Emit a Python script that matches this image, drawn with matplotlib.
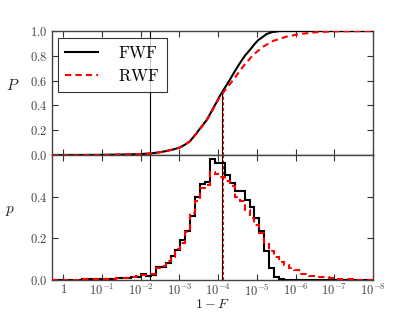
import numpy as np
import matplotlib
matplotlib.use("Agg")
import matplotlib.pyplot as plt
from matplotlib.ticker import FixedLocator, FixedFormatter, NullLocator

plt.rcParams['mathtext.fontset'] = 'cm'
plt.rcParams['font.family'] = ['DejaVu Serif']

# ---------------- data ----------------
# histogram bins in exponent space: 1-F = 10**(-exponent)
bin_exponents = np.linspace(-0.29, 8.0, 66)

hist_fwf = [0.001, 0.001, 0.001, 0.002, 0.002, 0.002, 0.003, 0.003, 0.004, 0.004,
            0.005, 0.006, 0.007, 0.009, 0.010, 0.012, 0.014, 0.016, 0.029, 0.020, 0.026,
            0.064, 0.062, 0.083, 0.116, 0.145, 0.190, 0.233, 0.305, 0.400, 0.460, 0.470,
            0.580, 0.560, 0.560, 0.506, 0.466, 0.426, 0.426, 0.386, 0.350, 0.297, 0.233,
            0.137, 0.056, 0.016, 0.004,
            0.001, 0.0005, 0, 0, 0, 0, 0, 0, 0, 0, 0, 0, 0, 0, 0, 0, 0, 0]

hist_rwf = [0.001, 0.001, 0.001, 0.002, 0.002, 0.002, 0.003, 0.003, 0.004, 0.004,
            0.005, 0.006, 0.007, 0.009, 0.011, 0.012, 0.014, 0.017, 0.022, 0.024, 0.030,
            0.057, 0.068, 0.090, 0.110, 0.150, 0.180, 0.230, 0.320, 0.380, 0.440, 0.458,
            0.520, 0.510, 0.495, 0.475, 0.450, 0.400, 0.377, 0.337, 0.300, 0.265, 0.225,
            0.175, 0.140, 0.112, 0.088,
            0.072, 0.060, 0.047, 0.031, 0.029, 0.020, 0.016, 0.016, 0.013, 0.009, 0.007,
            0.006, 0.003, 0.003, 0.001, 0.001, 0.0005, 0.0005]

cdf_fwf_exp = [-0.29, 1.0, 1.72, 2.0, 2.24, 2.45, 2.63, 2.82, 3.01, 3.14, 3.27, 3.44, 3.5,
               3.6, 3.70, 3.8, 3.87, 3.95, 4.04, 4.15, 4.30, 4.43, 4.56, 4.69, 4.82, 4.93,
               5.03, 5.16, 5.25, 5.38, 5.59, 8.0]
cdf_fwf = [0.0, 0.001, 0.005, 0.008, 0.012, 0.02, 0.03, 0.043, 0.06, 0.083, 0.11, 0.175, 0.20,
           0.24, 0.28, 0.335, 0.377, 0.42, 0.475, 0.53, 0.605, 0.675, 0.74, 0.80, 0.847, 0.89,
           0.925, 0.954, 0.975, 0.99, 1.0, 1.0]

cdf_rwf_exp = [-0.29, 1.0, 1.72, 2.0, 2.24, 2.45, 2.63, 2.82, 3.01, 3.14, 3.27, 3.44, 3.5,
               3.6, 3.70, 3.8, 3.87, 3.95, 4.04, 4.22, 4.39, 4.64, 4.90, 5.16, 5.42, 5.76,
               6.11, 6.54, 6.96, 8.0]
cdf_rwf = [0.0, 0.001, 0.005, 0.008, 0.012, 0.02, 0.03, 0.043, 0.06, 0.083, 0.11, 0.172, 0.197,
           0.237, 0.275, 0.33, 0.37, 0.415, 0.465, 0.54, 0.605, 0.712, 0.806, 0.873, 0.92,
           0.954, 0.976, 0.99, 0.997, 1.0]

threshold_exp = 2.24
median_fwf_exp = 4.09
median_rwf_exp = 4.12
median_level = 0.5

xtick_exp = [0, 1, 2, 3, 4, 5, 6, 7, 8]
xtick_labels = ['$1$'] + [r'$10^{-%d}$' % k for k in xtick_exp[1:]]
top_yticks = [0.0, 0.2, 0.4, 0.6, 0.8, 1.0]
bot_yticks = [0.0, 0.2, 0.4]

# ---------------- figure ----------------
fig = plt.figure(figsize=(4.15, 3.12), dpi=100)
ax1 = fig.add_axes([52/415, 1-155/312, 321/415, 124/312])
ax2 = fig.add_axes([52/415, 1-280/312, 321/415, 125/312], sharex=ax1)

to_x = lambda e: 10.0 ** (-np.asarray(e, dtype=float))

# top panel
ax1.plot(to_x(cdf_fwf_exp), cdf_fwf, color='black', lw=1.5, label=r'$\mathrm{FWF}$', zorder=3)
ax1.plot(to_x(cdf_rwf_exp), cdf_rwf, color='red', lw=1.5, ls=(0, (3, 2)), label=r'$\mathrm{RWF}$', zorder=3)
ax1.axvline(to_x(threshold_exp), color='black', lw=0.8)
ax1.vlines(to_x(median_fwf_exp), 0, median_level, color='black', lw=0.8)
ax1.vlines(to_x(median_rwf_exp), 0, median_level, color='red', lw=0.8, linestyles=(0, (3, 2)))

# bottom panel
ax2.stairs(hist_fwf, to_x(bin_exponents), color='black', lw=1.5, baseline=0, zorder=3)
ax2.stairs(hist_rwf, to_x(bin_exponents), color='red', lw=1.5, ls=(0, (3, 2)), baseline=0, zorder=3)
ax2.axvline(to_x(threshold_exp), color='black', lw=0.8)
ax2.axvline(to_x(median_fwf_exp), color='black', lw=0.8)
ax2.axvline(to_x(median_rwf_exp), color='red', lw=0.8, ls=(0, (3, 2)))

for ax in (ax1, ax2):
    ax.set_xscale('log')
    ax.set_xlim(10 ** 0.29, 1e-8)
    ax.xaxis.set_major_locator(FixedLocator(list(to_x(xtick_exp))))
    ax.xaxis.set_minor_locator(NullLocator())
    ax.tick_params(direction='in', length=4, width=0.8, top=True, right=True,
                   labelsize=9, colors='#333333', labelcolor='#444444')
    for s in ax.spines.values():
        s.set_linewidth(1.0)
        s.set_color('#444444')

ax1.set_ylim(0, 1)
ax1.set_yticks(top_yticks)
ax1.set_yticklabels(['$%.1f$' % v for v in top_yticks])
ax1.tick_params(labelbottom=False)

ax2.set_ylim(0, 0.6)
ax2.set_yticks(bot_yticks)
ax2.set_yticklabels(['$%.1f$' % v for v in bot_yticks])
ax2.xaxis.set_major_formatter(FixedFormatter(xtick_labels))
ax2.tick_params(axis='x', pad=2)

ax1.set_ylabel('$P$', fontsize=11, rotation=0, labelpad=12, color='#222222')
ax2.set_ylabel('$p$', fontsize=11, rotation=0, labelpad=14, color='#222222')
ax2.set_xlabel(r'$1-F$', fontsize=10, color='#222222', labelpad=-1)

leg = ax1.legend(loc='upper left', bbox_to_anchor=(0.02, 0.94), fontsize=12, frameon=True,
                 fancybox=False, edgecolor='black', handlelength=2.0, borderpad=0.4,
                 labelspacing=0.35, handletextpad=1.2, borderaxespad=0.0)
leg.get_frame().set_linewidth(0.8)

fig.savefig('out.png', dpi=100)
